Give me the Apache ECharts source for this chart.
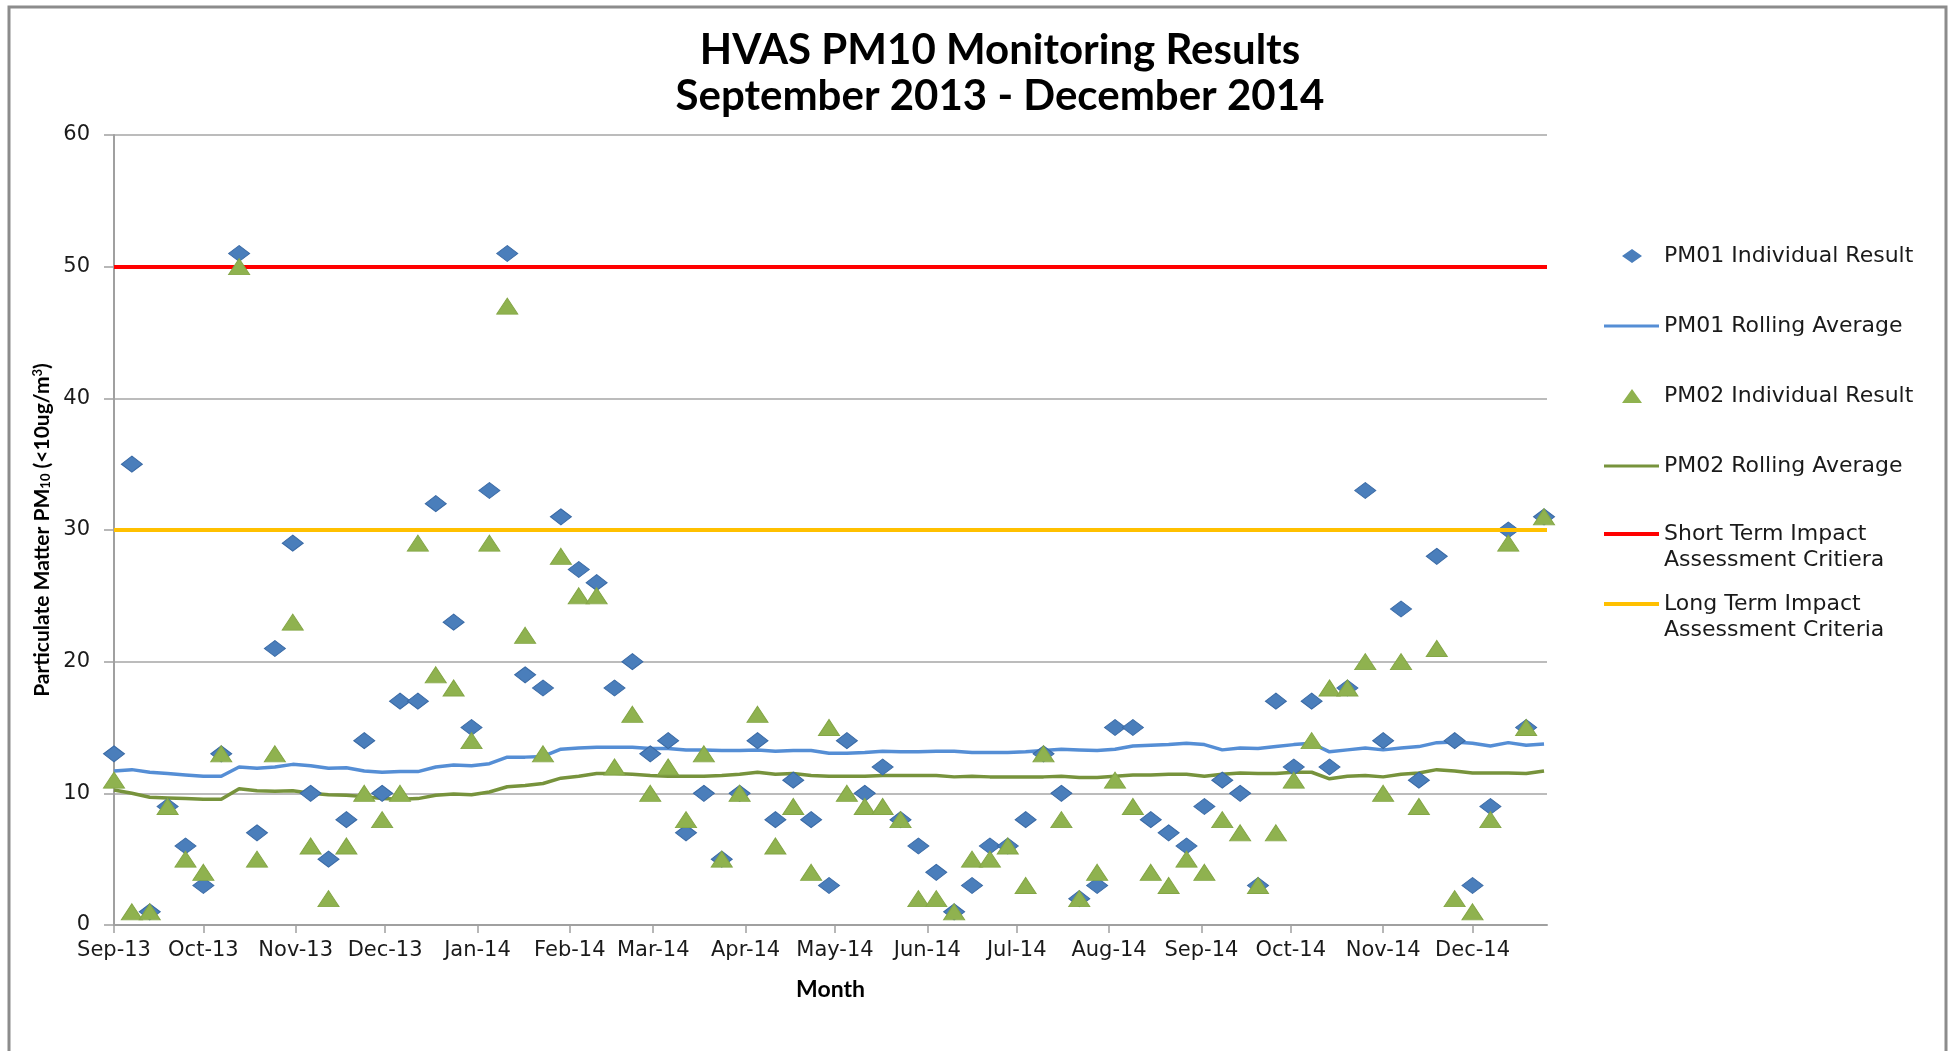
<!DOCTYPE html>
<html>
<head>
<meta charset="utf-8">
<title>HVAS PM10 Monitoring Results</title>
<script src="https://cdn.jsdelivr.net/npm/echarts@6/dist/echarts.min.js"></script>
<style>
    html, body { margin: 0; padding: 0; background: #fff; }
    #chart { width: 1948px; height: 1051px; }
</style>
</head>
<body>
<div id="chart"></div>
<script>
// sampling dates (one sample every 6 days)
var sampleDates = ['2013-09-01','2013-09-07','2013-09-13','2013-09-19','2013-09-25',
    '2013-10-01','2013-10-07','2013-10-13','2013-10-19','2013-10-25','2013-10-31',
    '2013-11-06','2013-11-12','2013-11-18','2013-11-24','2013-11-30',
    '2013-12-06','2013-12-12','2013-12-18','2013-12-24','2013-12-30',
    '2014-01-05','2014-01-11','2014-01-17','2014-01-23','2014-01-29',
    '2014-02-04','2014-02-10','2014-02-16','2014-02-22','2014-02-28',
    '2014-03-06','2014-03-12','2014-03-18','2014-03-24','2014-03-30',
    '2014-04-05','2014-04-11','2014-04-17','2014-04-23','2014-04-29',
    '2014-05-05','2014-05-11','2014-05-17','2014-05-23','2014-05-29',
    '2014-06-04','2014-06-10','2014-06-16','2014-06-22','2014-06-28',
    '2014-07-04','2014-07-10','2014-07-16','2014-07-22','2014-07-28',
    '2014-08-03','2014-08-09','2014-08-15','2014-08-21','2014-08-27',
    '2014-09-02','2014-09-08','2014-09-14','2014-09-20','2014-09-26',
    '2014-10-02','2014-10-08','2014-10-14','2014-10-20','2014-10-26',
    '2014-11-01','2014-11-07','2014-11-13','2014-11-19','2014-11-25',
    '2014-12-01','2014-12-07','2014-12-13','2014-12-19','2014-12-25'];

var pm01Result = [13,35,1,9,6,3,13,51,7,21, 29,10,5,8,14,10,17,17,32,23,
    15,33,51,19,18,31,27,26,18,20, 13,14,7,10,5,10,14,8,11,8,
    3,14,10,12,8,6,4,1,3,6, 6,8,13,10,2,3,15,15,8,7,
    6,9,11,10,3,17,12,17,12,18, 33,14,24,11,28,14,3,9,30,15, 31];

var pm01Average = [11.7,11.8,11.6,11.5,11.4,11.3,11.3,12.0,11.9,12.0,
    12.2,12.1,11.9,11.95,11.7,11.6,11.65,11.65,12.0,12.15,
    12.1,12.25,12.75,12.75,12.8,13.35,13.45,13.5,13.5,13.5,
    13.4,13.4,13.3,13.3,13.25,13.25,13.3,13.2,13.25,13.25,
    13.05,13.05,13.1,13.2,13.15,13.15,13.2,13.2,13.1,13.1,
    13.1,13.15,13.25,13.35,13.3,13.25,13.35,13.6,13.65,13.7,
    13.8,13.7,13.3,13.45,13.4,13.55,13.7,13.8,13.15,13.3,
    13.45,13.3,13.45,13.55,13.85,13.9,13.8,13.6,13.85,13.65, 13.75];

var pm02Result = [11,1,1,9,5,4,13,50,5,13, 23,6,2,6,10,8,10,29,19,18,
    14,29,47,22,13,28,25,25,12,16, 10,12,8,13,5,10,16,6,9,4,
    15,10,9,9,8,2,2,1,5,5, 6,3,13,8,2,4,11,9,4,3,
    5,4,8,7,3,7,11,14,18,18, 20,10,20,9,21,2,1,8,29,15, 31];

var pm02Average = [10.25,10.0,9.7,9.65,9.6,9.55,9.55,10.35,10.2,10.15,
    10.2,10.0,9.9,9.85,9.75,9.6,9.55,9.6,9.85,9.95,
    9.9,10.1,10.5,10.6,10.75,11.15,11.3,11.5,11.5,11.45,
    11.35,11.3,11.3,11.3,11.35,11.45,11.6,11.45,11.5,11.35,
    11.3,11.3,11.3,11.35,11.35,11.35,11.35,11.25,11.3,11.25,
    11.25,11.25,11.25,11.3,11.2,11.2,11.3,11.4,11.4,11.45,
    11.45,11.3,11.45,11.55,11.5,11.5,11.6,11.6,11.1,11.3,
    11.35,11.25,11.45,11.55,11.8,11.7,11.55,11.55,11.55,11.5, 11.7];

var shortTermCriteria = 50;
var longTermCriteria = 30;

var monthLabels = ['Sep-13','Oct-13','Nov-13','Dec-13','Jan-14','Feb-14','Mar-14','Apr-14',
    'May-14','Jun-14','Jul-14','Aug-14','Sep-14','Oct-14','Nov-14','Dec-14'];

var seriesNames = ['PM01 Individual Result', 'PM01 Rolling Average', 'PM02 Individual Result',
    'PM02 Rolling Average', 'Short Term Impact\nAssessment Critiera', 'Long Term Impact\nAssessment Criteria'];

function pairs(values) {
    var out = [];
    for (var i = 0; i < values.length; i++) {
        out.push([sampleDates[i], values[i]]);
    }
    return out;
}

// legend icons, 55x14 box (tiny corner specks keep the box size)
var box = 'M0,0L0.05,0L0,0.05Z M55,14L54.95,14L55,13.95Z ';
var lineIcon = 'path://' + box + 'M0,5.5L55,5.5L55,8.5L0,8.5Z';
var thickIcon = 'path://' + box + 'M0,5L55,5L55,9L0,9Z';
var diamondIcon = 'path://' + box + 'M18,7L28,0L38,7L28,14Z';
var triangleIcon = 'path://' + box + 'M18,14L28,0L38,14Z';

var labelFont = 'DejaVu Sans';
var boldFont = 'Lato';

var myChart = echarts.init(document.getElementById('chart'));

var legendBase = {
    orient: 'vertical',
    left: 1604,
    padding: 0,
    itemWidth: 55,
    itemHeight: 14,
    itemGap: 44,
    itemStyle: { borderWidth: 0 },
    textStyle: { fontFamily: labelFont, fontSize: 22, color: '#1a1a1a', lineHeight: 26 }
};

// blank first line so the icon sits level with the first text line
function firstLineFormatter(name) {
    return '\n' + name;
}

var option = {
    backgroundColor: '#fff',
    animation: false,
    title: {
        text: 'HVAS PM10 Monitoring Results\nSeptember 2013 - December 2014',
        left: 1000,
        top: 27,
        padding: 0,
        textAlign: 'center',
        textStyle: { fontFamily: boldFont, fontWeight: 'bold', fontSize: 42, lineHeight: 46, color: '#000' }
    },
    graphic: [{
        type: 'rect',
        shape: { x: 9, y: 7, width: 1937, height: 1100 },
        style: { fill: 'none', stroke: '#8c8c8c', lineWidth: 3 },
        silent: true
    }],
    legend: [
        Object.assign({}, legendBase, {
            top: 243,
            data: [
                { name: seriesNames[0], icon: diamondIcon },
                { name: seriesNames[1], icon: lineIcon },
                { name: seriesNames[2], icon: triangleIcon },
                { name: seriesNames[3], icon: lineIcon }
            ]
        }),
        Object.assign({}, legendBase, {
            top: 495,
            formatter: firstLineFormatter,
            data: [{ name: seriesNames[4], icon: thickIcon }]
        }),
        Object.assign({}, legendBase, {
            top: 565,
            formatter: firstLineFormatter,
            data: [{ name: seriesNames[5], icon: thickIcon }]
        })
    ],
    grid: {
        left: 114,
        right: 401,
        top: 135,
        bottom: 126
    },
    xAxis: {
        type: 'time',
        min: sampleDates[0],
        max: '2014-12-26',
        splitNumber: 16,
        minInterval: 28 * 24 * 3600 * 1000,
        maxInterval: 31 * 24 * 3600 * 1000,
        name: 'Month',
        nameLocation: 'middle',
        nameGap: 53,
        nameTextStyle: { fontFamily: boldFont, fontWeight: 'bold', fontSize: 23, color: '#000' },
        axisLine: { show: true, lineStyle: { color: '#a0a0a0', width: 2 } },
        axisTick: { show: true, length: 8, lineStyle: { color: '#a0a0a0', width: 1.5 } },
        axisLabel: {
            margin: 15,
            fontFamily: labelFont,
            fontSize: 21,
            color: '#1a1a1a',
            hideOverlap: false,
            formatter: function (val) {
                var d = new Date(val);
                var idx = (d.getFullYear() - 2013) * 12 + d.getMonth() - 8;
                return monthLabels[idx] || '';
            }
        },
        splitLine: { show: false }
    },
    yAxis: {
        type: 'value',
        min: 0,
        max: 60,
        interval: 10,
        name: 'Particulate Matter PM{sub|10} (<10ug/m{sup|3})',
        nameLocation: 'middle',
        nameGap: 61,
        nameTextStyle: {
            fontFamily: boldFont, fontWeight: 'bold', fontSize: 21, color: '#000',
            rich: {
                sub: { fontFamily: boldFont, fontWeight: 'bold', fontSize: 13, color: '#000', verticalAlign: 'bottom' },
                sup: { fontFamily: boldFont, fontWeight: 'bold', fontSize: 13, color: '#000', verticalAlign: 'top' }
            }
        },
        axisLine: { show: true, lineStyle: { color: '#a0a0a0', width: 2 } },
        axisTick: { show: true, length: 10, lineStyle: { color: '#a0a0a0', width: 1.5 } },
        axisLabel: { margin: 24, fontFamily: labelFont, fontSize: 21, color: '#1a1a1a' },
        splitLine: { show: true, lineStyle: { color: '#a6a6a6', width: 1.5 } }
    },
    series: [
        {
            name: seriesNames[0],
            type: 'scatter',
            z: 4,
            symbol: 'diamond',
            symbolSize: [21, 16],
            itemStyle: { color: '#4a7ebb', borderColor: '#3a6aa5', borderWidth: 1, opacity: 1 },
            data: pairs(pm01Result)
        },
        {
            name: seriesNames[1],
            type: 'line',
            z: 3,
            showSymbol: false,
            symbol: 'none',
            itemStyle: { color: '#558ed5' },
            lineStyle: { color: '#558ed5', width: 3.5 },
            data: pairs(pm01Average)
        },
        {
            name: seriesNames[2],
            type: 'scatter',
            z: 5,
            symbol: 'triangle',
            symbolSize: [21, 16],
            itemStyle: { color: '#8fb24f', borderColor: '#84a646', borderWidth: 1, opacity: 1 },
            data: pairs(pm02Result)
        },
        {
            name: seriesNames[3],
            type: 'line',
            z: 3,
            showSymbol: false,
            symbol: 'none',
            itemStyle: { color: '#77933c' },
            lineStyle: { color: '#77933c', width: 3.5 },
            data: pairs(pm02Average)
        },
        {
            name: seriesNames[4],
            type: 'line',
            z: 2,
            symbol: 'none',
            itemStyle: { color: '#ff0000' },
            lineStyle: { color: '#ff0000', width: 4 },
            data: [],
            markLine: {
                silent: true,
                symbol: 'none',
                label: { show: false },
                lineStyle: { color: '#ff0000', width: 4, type: 'solid' },
                data: [{ yAxis: shortTermCriteria }]
            }
        },
        {
            name: seriesNames[5],
            type: 'line',
            z: 2,
            symbol: 'none',
            itemStyle: { color: '#ffc000' },
            lineStyle: { color: '#ffc000', width: 4 },
            data: [],
            markLine: {
                silent: true,
                symbol: 'none',
                label: { show: false },
                lineStyle: { color: '#ffc000', width: 4, type: 'solid' },
                data: [{ yAxis: longTermCriteria }]
            }
        }
    ]
};

myChart.setOption(option);
</script>
</body>
</html>
